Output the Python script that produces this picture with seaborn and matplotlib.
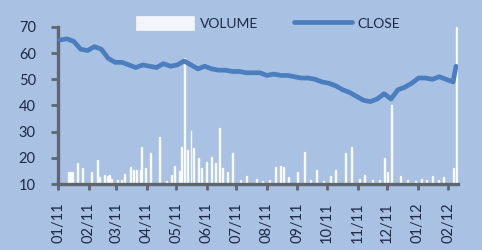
import pandas as pd
import numpy as np
import matplotlib.pyplot as plt
import matplotlib.dates as mdates
from matplotlib.patches import Patch
import seaborn as sns

# weekly closing prices, Mondays from 2011-01-03
close_start = "2011-01-03"
close_vals = [65, 65.5, 64.5, 61.5, 61, 62.5, 61.5, 58, 56.5, 56.5,
              55.5, 54.5, 55.5, 55, 54.5, 56, 55, 55.5, 57, 55.5,
              54, 55, 54, 53.5, 53.5, 53, 53, 52.5, 52.5, 52.5,
              51.5, 52, 51.5, 51.5, 51, 50.5, 50.5, 50, 49, 48.5,
              47.5, 46, 45, 43.5, 42, 41.5, 42.5, 44.5, 42.5, 46,
              47, 48.5, 50.5, 50.5, 50, 51, 50, 49]
close_last_date = "2012-02-09"
close_last_val = 55

# daily volume spikes
vol_dates = ["2011-01-12", "2011-01-14", "2011-01-16", "2011-01-21", "2011-01-26",
             "2011-02-04", "2011-02-10", "2011-02-12", "2011-02-17", "2011-02-20",
             "2011-02-22", "2011-02-24", "2011-03-02", "2011-03-06", "2011-03-09",
             "2011-03-16", "2011-03-19", "2011-03-22", "2011-03-26", "2011-03-27",
             "2011-03-31", "2011-04-05", "2011-04-14", "2011-04-21", "2011-04-26",
             "2011-04-29", "2011-05-04", "2011-05-06", "2011-05-09", "2011-05-12",
             "2011-05-16", "2011-05-19", "2011-05-24", "2011-05-27", "2011-06-01",
             "2011-06-06", "2011-06-10", "2011-06-14", "2011-06-17", "2011-06-22",
             "2011-06-27", "2011-07-05", "2011-07-11", "2011-07-21", "2011-07-28",
             "2011-08-04", "2011-08-10", "2011-08-15", "2011-08-18", "2011-08-23",
             "2011-09-01", "2011-09-08", "2011-09-14", "2011-09-20", "2011-09-27",
             "2011-10-05", "2011-10-10", "2011-10-20", "2011-10-26", "2011-11-03",
             "2011-11-08", "2011-11-16", "2011-11-23", "2011-11-28", "2011-12-01",
             "2011-12-06", "2011-12-15", "2011-12-22", "2011-12-30", "2012-01-05",
             "2012-01-10", "2012-01-16", "2012-01-22", "2012-01-27", "2012-02-06",
             "2012-02-09"]
vol_vals = [14.6, 14.6, 14.5, 18, 16,
            14.6, 19, 12.7, 13.4, 13,
            13.4, 12, 11.5, 11.5, 13.8,
            16.4, 15.4, 15.4, 15.4, 24,
            16, 21.8, 28, 11, 13.5,
            17, 15, 24, 58, 23,
            30.6, 23.7, 20, 16, 18.4,
            20.3, 18, 31.4, 16, 14.7,
            22, 11.5, 13, 12, 11,
            11.5, 16.5, 16.7, 16.6, 12.7,
            14.7, 22.2, 11.5, 15.5, 11,
            13, 15.5, 21.9, 24, 11.8,
            13.6, 11.7, 11.7, 20, 14.6,
            40, 13, 11.5, 11, 11.8,
            11.5, 13, 11.5, 12.5, 16,
            70]

month_ticks = pd.date_range("2011-01-01", "2012-02-01", freq="MS")

bg = "#a9c1e2"
line_col = "#4a7ebf"
bar_col = "#eef3fb"
txt_col = "#1c2a48"
spine_col = "#5f6670"

close = pd.DataFrame({
    "date": list(pd.date_range(close_start, periods=len(close_vals), freq="7D")) + [pd.Timestamp(close_last_date)],
    "close": close_vals + [close_last_val],
})
vol = pd.DataFrame({"date": pd.to_datetime(vol_dates), "volume": vol_vals})

sns.set_style("ticks")
plt.rcParams['font.family'] = ['Lato', 'DejaVu Sans']

fig = plt.figure(figsize=(4.82, 2.5), dpi=100, facecolor=bg)
ax = fig.add_axes([58 / 482, 1 - 184 / 250, 400 / 482, 157 / 250])
ax.set_facecolor(bg)

ax.bar(vol["date"], vol["volume"], width=1.0, color=bar_col, alpha=0.9, zorder=2)
sns.lineplot(data=close, x="date", y="close", ax=ax, color=line_col, lw=3.4, zorder=3)

ax.set_ylim(10, 70)
ax.set_yticks(range(10, 71, 10))
ax.set_xlim(pd.Timestamp("2011-01-01"), pd.Timestamp("2012-02-11"))
ax.set_xticks(month_ticks)
ax.xaxis.set_major_formatter(mdates.DateFormatter("%m/%y"))
ax.tick_params(axis="x", rotation=90, labelsize=10.5, labelcolor=txt_col, color=spine_col,
               length=4, width=2, direction="out", pad=9)
ax.tick_params(axis="y", labelsize=10.5, labelcolor=txt_col, color=spine_col,
               length=5, width=2, direction="out", pad=11)
ax.set_xlabel("")
ax.set_ylabel("")

ax.spines["top"].set_visible(False)
ax.spines["right"].set_visible(False)
for s in ["left", "bottom"]:
    ax.spines[s].set_visible(True)
    ax.spines[s].set_edgecolor(spine_col)
    ax.spines[s].set_linewidth(2.4)

vol_handle = Patch(facecolor="#f2f6fc", edgecolor="#f2f6fc", linewidth=0.5)
close_handle = plt.Line2D([], [], color=line_col, lw=3.4)
leg = ax.legend([vol_handle, close_handle], ["VOLUME", "CLOSE"],
                loc="center", bbox_to_anchor=(268 / 482, 1 - 23 / 250),
                bbox_transform=fig.transFigure, ncol=2, frameon=False,
                fontsize=10, handlelength=4.2, handleheight=1.1,
                columnspacing=2.6, handletextpad=0.4)
for t in leg.get_texts():
    t.set_color(txt_col)

fig.savefig("out.png", dpi=100, facecolor=bg)
